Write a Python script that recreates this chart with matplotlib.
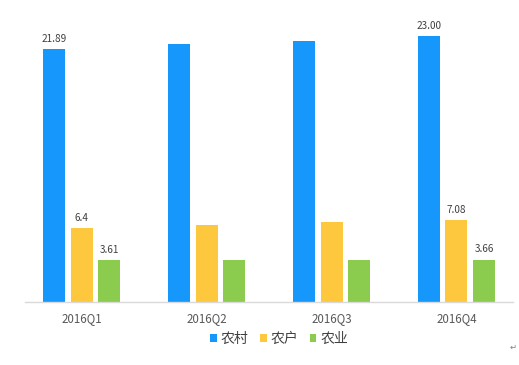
import numpy as np
import matplotlib.pyplot as plt

plt.rcParams['font.family'] = ['Noto Sans CJK SC', 'DejaVu Sans']

# data
quarters = ['2016Q1', '2016Q2', '2016Q3', '2016Q4']
series_names = ['农村', '农户', '农业']
rural = [21.89, 22.3, 22.6, 23.00]
household = [6.4, 6.7, 6.9, 7.08]
agri = [3.61, 3.62, 3.62, 3.66]
# only these bars carry a value label in the original
label_quarters = [0, 3]
label_text = {
    '农村': ['21.89', '', '', '23.00'],
    '农户': ['6.4', '', '', '7.08'],
    '农业': ['3.61', '', '', '3.66'],
}

colors = ['#1597FB', '#FDC83E', '#8BCB4E']

fig = plt.figure(figsize=(5.19, 3.65), dpi=100)
ax = fig.add_axes([25 / 519, 63 / 365, 488 / 519, 282 / 365])

x = np.arange(len(quarters))
width = 0.176
offset = 0.22
all_series = [rural, household, agri]

for i, (name, vals, c) in enumerate(zip(series_names, all_series, colors)):
    pos = x + (i - 1) * offset
    ax.bar(pos, vals, width=width, color=c, label=name)
    for q in label_quarters:
        ax.text(pos[q], vals[q] + 0.45, label_text[name][q], ha='center', va='bottom',
                fontsize=7.2, color='#404040')

ax.set_xlim(-0.452, 3.452)
ax.set_ylim(0, 24.4)
ax.set_xticks(x)
ax.set_xticklabels(quarters, fontsize=8.3, color='#595959')
ax.tick_params(axis='x', length=0, pad=7.5)
ax.set_yticks([])
for s in ['top', 'left', 'right']:
    ax.spines[s].set_visible(False)
ax.spines['bottom'].set_color('#D9D9D9')
ax.spines['bottom'].set_linewidth(1)

fig.legend(loc='center', bbox_to_anchor=(279 / 519, 1 - 339 / 365), ncol=3,
           frameon=False, fontsize=10, handlelength=0.5, handleheight=0.5,
           handletextpad=0.3, columnspacing=0.8, labelcolor='#404040')

fig.text(513 / 519, 1 - 347 / 365, '↵', fontsize=6, color='#808080',
         ha='center', va='center', family='DejaVu Sans')

fig.savefig('out.png', dpi=100)
